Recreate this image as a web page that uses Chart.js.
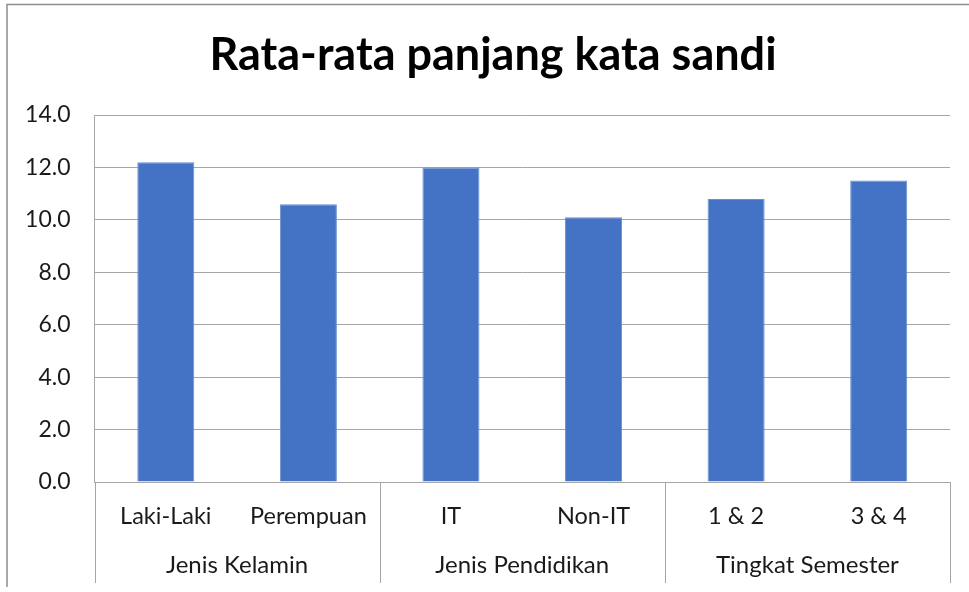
<!DOCTYPE html>
<html>
<head>
<meta charset="utf-8">
<script src="https://cdn.jsdelivr.net/npm/chart.js@4"></script>
<style>
html,body{margin:0;padding:0;background:#fff;}
#wrap{position:relative;width:969px;height:592px;}
</style>
</head>
<body>
<div id="wrap"><canvas id="c" width="969" height="592"></canvas></div>
<script>
const titleText = 'Rata-rata panjang kata sandi';
const categories = ['Laki-Laki', 'Perempuan', 'IT', 'Non-IT', '1 & 2', '3 & 4'];
const groupNames = ['Jenis Kelamin', 'Jenis Pendidikan', 'Tingkat Semester'];
const groupSizes = [2, 2, 2];
const values = [12.2, 10.6, 12.0, 10.1, 10.8, 11.5];
const yMin = 0, yMax = 14, yStep = 2;

const FONT = 'Lato, "Open Sans", sans-serif';
const LINE = '#a6a6a6';
const TEXT = '#1a1a1a';

const decor = {
  id: 'decor',
  beforeDraw(chart) {
    const ctx = chart.ctx;
    ctx.save();
    ctx.fillStyle = '#fff';
    ctx.fillRect(0, 0, chart.width, chart.height);
    ctx.strokeStyle = '#8c8c8c';
    ctx.lineWidth = 1.5;
    ctx.beginPath();
    ctx.moveTo(7, 587);
    ctx.lineTo(7, 4.5);
    ctx.lineTo(chart.width + 2, 4.5);
    ctx.stroke();
    ctx.restore();
  },
  afterDraw(chart) {
    const ctx = chart.ctx;
    const area = chart.chartArea;
    const w = (area.right - area.left) / categories.length;
    const bottom = 583;
    ctx.save();
    // title
    ctx.fillStyle = '#000';
    ctx.font = 'bold 45px ' + FONT;
    ctx.textAlign = 'center';
    ctx.textBaseline = 'middle';
    ctx.fillText(titleText, 493, 55);
    // group separators
    ctx.strokeStyle = LINE;
    ctx.lineWidth = 1;
    let k = 0;
    const bounds = [0];
    groupSizes.forEach(s => { k += s; bounds.push(k); });
    bounds.forEach(b => {
      const x = Math.round(area.left + b * w) + 0.5;
      ctx.beginPath();
      ctx.moveTo(x, area.bottom);
      ctx.lineTo(x, bottom);
      ctx.stroke();
    });
    // group labels
    ctx.fillStyle = TEXT;
    ctx.font = '24px ' + FONT;
    groupNames.forEach((g, i) => {
      const cx = area.left + (bounds[i] + bounds[i + 1]) / 2 * w;
      ctx.fillText(g, cx, 565);
    });
    ctx.restore();
  }
};

new Chart(document.getElementById('c'), {
  type: 'bar',
  data: {
    labels: categories,
    datasets: [{
      data: values,
      backgroundColor: '#4472C4',
      borderColor: '#6a8fd3',
      borderWidth: 1,
      barPercentage: 0.4,
      categoryPercentage: 1
    }]
  },
  options: {
    responsive: false,
    animation: false,
    layout: { padding: { left: 0, right: 19, top: 115, bottom: 0 } },
    plugins: {
      legend: { display: false },
      tooltip: { enabled: false },
      title: { display: false }
    },
    scales: {
      x: {
        grid: { display: false, drawTicks: false },
        border: { display: false },
        ticks: { color: TEXT, font: { family: FONT, size: 23.5 }, padding: 20, maxRotation: 0, autoSkip: false },
        afterFit(s) { s.height = 110; }
      },
      y: {
        min: yMin, max: yMax,
        grid: { color: LINE, drawTicks: false },
        border: { display: true, color: LINE },
        ticks: {
          stepSize: yStep,
          color: TEXT,
          font: { family: FONT, size: 23 },
          padding: 24,
          callback: v => Number(v).toFixed(1)
        },
        afterFit(s) { s.width = 94.5; }
      }
    }
  },
  plugins: [decor]
});
</script>
</body>
</html>
